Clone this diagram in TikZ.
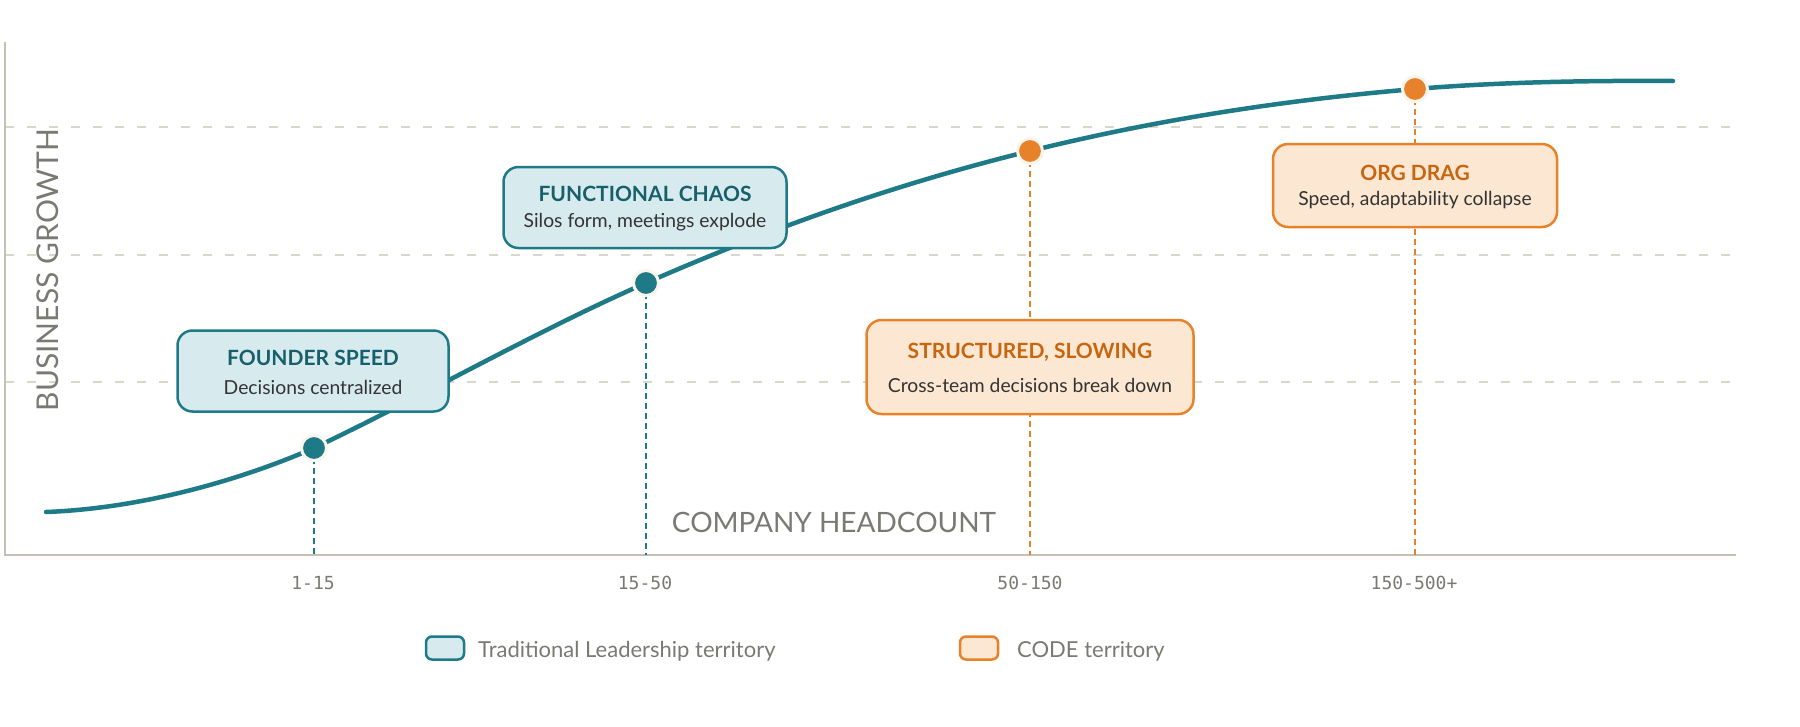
\documentclass[tikz,border=0pt]{standalone}
\usepackage{fontspec}
\setmainfont{Lato}
\newfontfamily\monof{DejaVu Sans Mono}
\definecolor{teal}{HTML}{1E7A87}
\definecolor{tealfill}{HTML}{D7EBEE}
\definecolor{tealtitle}{HTML}{17606B}
\definecolor{orng}{HTML}{E8822A}
\definecolor{orngfill}{HTML}{FCE8D2}
\definecolor{orngtitle}{HTML}{C8650F}
\definecolor{subtxt}{HTML}{333333}
\definecolor{axisc}{HTML}{C4C0B4}
\definecolor{gridc}{HTML}{D9D6CC}
\definecolor{labc}{HTML}{7A7A74}
\definecolor{ring}{HTML}{FAF5EC}
\tikzset{
  tealbox/.style={draw=teal, fill=tealfill, line width=2.5pt, rounded corners=15pt},
  orngbox/.style={draw=orng, fill=orngfill, line width=2.5pt, rounded corners=15pt},
  ttl/.style={font=\fontsize{21}{25}\selectfont\bfseries, inner sep=0pt},
  sub/.style={font=\fontsize{19.3}{23}\selectfont, text=subtxt, inner sep=0pt},
  tealdot/.style={circle, fill=teal, draw=ring, line width=3pt, minimum size=25pt, inner sep=0pt},
  orngdot/.style={circle, fill=orng, draw=ring, line width=3pt, minimum size=25pt, inner sep=0pt},
  tealdash/.style={draw=teal, line width=2.5pt, dash pattern=on 6pt off 4pt},
  orngdash/.style={draw=orng, line width=2.5pt, dash pattern=on 6pt off 4pt},
  gridline/.style={draw=gridc, line width=1.5pt, dash pattern=on 9pt off 13pt},
  axisline/.style={draw=axisc, line width=2.5pt},
  ticklab/.style={font=\monof\fontsize{18}{22}\selectfont, text=labc},
  axlab/.style={font=\fontsize{30}{34}\selectfont, text=labc},
  leglab/.style={font=\fontsize{22}{26}\selectfont, text=labc, anchor=west, inner sep=0pt},
}
\begin{document}
\begin{tikzpicture}[x=1pt,y=-1pt]
\useasboundingbox[fill=white] (0,0) rectangle (1800,726);
% axes coordinates
\coordinate (O) at (5,555);
\coordinate (xend) at (1736,555);
\coordinate (ytop) at (5,42);
% grid
\coordinate (g1) at (5,127); \coordinate (g1e) at (1736,127);
\coordinate (g2) at (5,255); \coordinate (g2e) at (1736,255);
\coordinate (g3) at (5,382); \coordinate (g3e) at (1736,382);
\draw[gridline] (g1) -- (g1e);
\draw[gridline] (g2) -- (g2e);
\draw[gridline] (g3) -- (g3e);
\draw[axisline] (ytop) -- (O) -- (xend);
% dots positions
\coordinate (c0) at (46,512);
\coordinate (p1) at (314,448);
\coordinate (p2) at (646,283);
\coordinate (p3) at (1030,151);
\coordinate (p4) at (1415,89);
\coordinate (c5) at (1673,81);
% dashed verticals
\draw[tealdash] (p1) -- (p1 |- O);
\draw[tealdash] (p2) -- (p2 |- O);
\draw[orngdash] (p3) -- (p3 |- O);
\draw[orngdash] (p4) -- (p4 |- O);
% curve
\draw[teal, line width=4.5pt, line cap=round]
  (c0) .. controls (150,508) and (250,476) .. (p1)
       .. controls (420,398) and (536,331) .. (p2)
       .. controls (776,226) and (900,183) .. (p3)
       .. controls (1160,119) and (1285,100) .. (p4)
       .. controls (1505,81.5) and (1600,80.5) .. (c5);
% boxes
\node[tealbox, minimum width=271pt, minimum height=81pt] (fsbox) at (313,371) {};
\node[ttl, text=tealtitle] (fstitle) at ([yshift=13pt]fsbox.center) {FOUNDER SPEED};
\node[sub] (fssub) at ([yshift=-16pt]fsbox.center) {Decisions centralized};

\node[tealbox, minimum width=283pt, minimum height=81pt] (fcbox) at (645,207.5) {};
\node[ttl, text=tealtitle] (fctitle) at ([yshift=14pt]fcbox.center) {FUNCTIONAL CHAOS};
\node[sub] (fcsub) at ([yshift=-15pt]fcbox.center) {Silos form, meetings explode};

\node[orngbox, minimum width=327pt, minimum height=94pt] (ssbox) at (1030,367) {};
\node[ttl, text=orngtitle] (sstitle) at ([yshift=15pt]ssbox.center) {STRUCTURED, SLOWING};
\node[sub] (sssub) at ([yshift=-18pt]ssbox.center) {Cross-team decisions break down};

\node[orngbox, minimum width=284pt, minimum height=83pt] (odbox) at (1415,185.5) {};
\node[ttl, text=orngtitle] (odtitle) at ([yshift=13pt]odbox.center) {ORG DRAG};
\node[sub] (odsub) at ([yshift=-15pt]odbox.center) {Speed, adaptability collapse};
% dots
\node[tealdot] (d1) at (p1) {};
\node[tealdot] (d2) at (p2) {};
\node[orngdot] (d3) at (p3) {};
\node[orngdot] (d4) at (p4) {};
% axis labels
\node[axlab, rotate=90] (ylab) at (48,270) {BUSINESS GROWTH};
\node[axlab, font=\fontsize{28}{32}\selectfont] (xlab) at (834,522) {COMPANY HEADCOUNT};
% ticks
\node[ticklab] (t1) at (313,583) {1-15};
\node[ticklab] (t2) at (645,583) {15-50};
\node[ticklab] (t3) at (1030,583) {50-150};
\node[ticklab] (t4) at (1414,583) {150-500+};
% legend
\node[tealbox, rounded corners=6pt, minimum width=38pt, minimum height=23pt, inner sep=0pt] (leg1) at (445,648) {};
\node[leglab] (leg1t) at (478,651) {Traditional Leadership territory};
\node[orngbox, rounded corners=6pt, minimum width=38pt, minimum height=23pt, inner sep=0pt] (leg2) at (979,648) {};
\node[leglab] (leg2t) at (1017,651) {CODE territory};
\end{tikzpicture}
\end{document}
